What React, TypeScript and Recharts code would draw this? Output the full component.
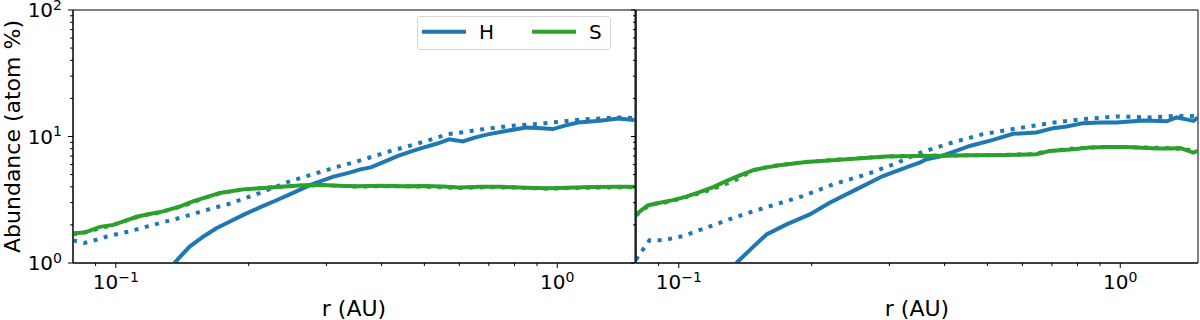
import React from 'react';
import { LineChart, Line, XAxis, YAxis, ReferenceArea, Legend } from 'recharts';

const H_COLOR = '#1f77b4';
const S_COLOR = '#2ca02c';
const FONT = '"DejaVu Sans", sans-serif';

// axis ticks
const xDomain = [0.08, 1.5];
const yDomain = [1, 100];
const xTicks = [0.09, 0.1, 0.2, 0.3, 0.4, 0.5, 0.6, 0.7, 0.8, 0.9, 1];
const xMajorTicks = [0.1, 1];
const xMajorExp = ['\u22121', '0'];
const yTicks = [1, 2, 3, 4, 5, 6, 7, 8, 9, 10, 20, 30, 40, 50, 60, 70, 80, 90, 100];
const yMajorTicks = [1, 10, 100];
const yMajorExp = ['0', '1', '2'];
const seriesNames = ['H', 'S'];

// left panel
const leftHSolidR = [0.1357, 0.147, 0.158, 0.169, 0.18, 0.1945, 0.212, 0.232, 0.255, 0.276, 0.31, 0.34, 0.358, 0.378, 0.405, 0.4345, 0.465, 0.499, 0.535, 0.569, 0.611, 0.65, 0.696, 0.77, 0.85, 0.92, 0.978, 1.04, 1.114, 1.25, 1.374, 1.45, 1.5];
const leftHSolidA = [1.0, 1.35, 1.62, 1.88, 2.1, 2.4, 2.75, 3.15, 3.65, 4.15, 4.8, 5.2, 5.5, 5.7, 6.3, 7.0, 7.6, 8.2, 8.8, 9.5, 9.15, 9.8, 10.4, 11.1, 11.8, 11.6, 11.45, 12.2, 12.9, 13.3, 13.9, 13.6, 13.5];
const leftHDotR = [0.08, 0.085, 0.09, 0.096, 0.1076, 0.118, 0.128, 0.14, 0.1525, 0.165, 0.1787, 0.195, 0.2125, 0.23, 0.2486, 0.27, 0.2956, 0.32, 0.352, 0.385, 0.4195, 0.455, 0.491, 0.525, 0.5645, 0.61, 0.661, 0.72, 0.786, 0.86, 0.936, 1.02, 1.114, 1.25, 1.374, 1.5];
const leftHDotA = [1.51, 1.44, 1.52, 1.63, 1.78, 1.95, 2.1, 2.28, 2.49, 2.7, 2.9, 3.22, 3.59, 4.0, 4.44, 4.85, 5.33, 5.8, 6.35, 7.0, 7.69, 8.3, 8.96, 9.6, 10.43, 10.8, 11.28, 11.7, 12.13, 12.4, 12.75, 13.1, 13.55, 13.9, 14.15, 14.0];
const leftSSolidR = [0.08, 0.085, 0.092, 0.0986, 0.105, 0.1115, 0.12, 0.128, 0.14, 0.15, 0.16, 0.172, 0.1945, 0.232, 0.26, 0.286, 0.32, 0.352, 0.4, 0.45, 0.5, 0.55, 0.6, 0.67, 0.75, 0.85, 0.95, 1.05, 1.2, 1.35, 1.5];
const leftSSolidA = [1.72, 1.74, 1.93, 2.0, 2.15, 2.32, 2.45, 2.56, 2.8, 3.08, 3.3, 3.58, 3.82, 3.98, 4.1, 4.15, 4.08, 4.05, 4.08, 4.05, 4.07, 4.02, 3.95, 4.0, 4.0, 3.93, 3.9, 3.93, 3.98, 4.0, 4.0];
const leftSDotR = [0.08, 0.086, 0.093, 0.1, 0.107, 0.115, 0.124, 0.133, 0.145, 0.158, 0.172, 0.19, 0.22, 0.26, 0.3, 0.35, 0.42, 0.5, 0.6, 0.7, 0.8, 0.95, 1.1, 1.3, 1.5];
const leftSDotA = [1.68, 1.76, 1.9, 2.03, 2.2, 2.38, 2.48, 2.65, 2.9, 3.25, 3.55, 3.78, 3.95, 4.08, 4.12, 4.02, 4.05, 4.02, 3.92, 3.97, 3.95, 3.87, 3.92, 3.95, 3.98];

// right panel
const rightHSolidR = [0.135, 0.146, 0.158, 0.175, 0.198, 0.2197, 0.2525, 0.29, 0.3335, 0.3514, 0.364, 0.39, 0.42, 0.456, 0.515, 0.572, 0.646, 0.705, 0.756, 0.824, 0.9, 0.981, 1.128, 1.274, 1.342, 1.42, 1.464, 1.5];
const rightHSolidA = [1.0, 1.3, 1.68, 2.01, 2.42, 2.99, 3.82, 4.87, 5.84, 6.22, 6.61, 6.94, 7.6, 8.42, 9.4, 10.5, 10.76, 11.64, 12.0, 12.75, 12.9, 12.9, 13.4, 13.2, 14.15, 13.6, 13.3, 14.1];
const rightHDotR = [0.08, 0.083, 0.0858, 0.092, 0.102, 0.1154, 0.135, 0.1606, 0.191, 0.2234, 0.266, 0.311, 0.345, 0.411, 0.489, 0.582, 0.693, 0.824, 0.981, 1.17, 1.342, 1.5];
const rightHDotA = [1.06, 1.28, 1.51, 1.51, 1.63, 1.9, 2.32, 2.81, 3.38, 4.18, 5.02, 6.14, 7.24, 8.85, 10.43, 11.57, 12.75, 13.72, 14.4, 14.15, 14.56, 14.5];
const rightSSolidR = [0.08, 0.085, 0.09, 0.097, 0.104, 0.1114, 0.12, 0.128, 0.137, 0.147, 0.158, 0.169, 0.1945, 0.24, 0.295, 0.35, 0.4, 0.456, 0.55, 0.646, 0.693, 0.77, 0.854, 0.94, 1.034, 1.12, 1.209, 1.3, 1.366, 1.464, 1.5];
const rightSSolidA = [2.42, 2.85, 2.98, 3.14, 3.35, 3.63, 4.0, 4.44, 4.9, 5.4, 5.7, 5.92, 6.29, 6.61, 6.94, 7.02, 7.05, 7.1, 7.15, 7.24, 7.69, 7.9, 8.18, 8.25, 8.27, 8.15, 8.03, 8.05, 8.12, 7.46, 7.7];
const rightSDotR = [0.08, 0.086, 0.093, 0.1, 0.108, 0.116, 0.125, 0.135, 0.148, 0.165, 0.19, 0.23, 0.3, 0.4, 0.5, 0.62, 0.7, 0.8, 0.95, 1.1, 1.3, 1.5];
const rightSDotA = [2.38, 2.9, 3.0, 3.2, 3.45, 3.72, 4.08, 4.55, 5.45, 5.88, 6.25, 6.58, 6.98, 7.08, 7.12, 7.22, 7.72, 8.1, 8.28, 8.2, 8.1, 7.72];

const toPoints = (r: number[], a: number[]) => r.map((v, i) => ({ r: v, a: a[i] }));

const XTick = ({ x, y, payload }: any) => {
  const i = xMajorTicks.indexOf(payload.value);
  const major = i >= 0;
  return (
    <g>
      <line x1={x} x2={x} y1={y} y2={y + (major ? 5 : 3)} stroke="#000" strokeWidth={1} />
      {major && (
        <text x={x} y={y + 26} textAnchor="middle" fontSize={20} fontFamily={FONT} fill="#000">
          10<tspan dy={-7.5} fontSize={14}>{xMajorExp[i]}</tspan>
        </text>
      )}
    </g>
  );
};

const YTick = ({ x, y, payload, showLabel }: any) => {
  const i = yMajorTicks.indexOf(payload.value);
  const major = i >= 0;
  return (
    <g>
      <line x1={x - (major ? 5 : 3)} x2={x} y1={y} y2={y} stroke="#000" strokeWidth={1} />
      {major && showLabel && (
        <text x={x - 11} y={y + 7} textAnchor="end" fontSize={20} fontFamily={FONT} fill="#000">
          10<tspan dy={-7.5} fontSize={14}>{yMajorExp[i]}</tspan>
        </text>
      )}
    </g>
  );
};

const XTitle = ({ cx }: { cx: number }) => (
  <text x={cx} y={316} textAnchor="middle" fontSize={22} fontFamily={FONT} fill="#000">
    r (AU)
  </text>
);

const YTitle = () => (
  <text
    x={12}
    y={136.5}
    transform="rotate(-90 12 136.5)"
    textAnchor="middle"
    dominantBaseline="central"
    fontSize={22}
    fontFamily={FONT}
    fill="#000"
  >
    Abundance (atom %)
  </text>
);

const LegendBox = () => {
  const colors = [H_COLOR, S_COLOR];
  return (
    <div
      style={{
        width: 194,
        height: 34,
        boxSizing: 'border-box',
        border: '1px solid #d6d6d6',
        borderRadius: 3,
        background: 'rgba(255,255,255,0.8)',
      }}
    >
      <svg width={192} height={32} style={{ display: 'block' }}>
        {seriesNames.map((name, i) => (
          <g key={name} transform={`translate(${i * 110},0)`}>
            <line x1={4} x2={48} y1={14.7} y2={14.7} stroke={colors[i]} strokeWidth={4} />
            <text x={61} y={22} fontSize={20} fontFamily={FONT} fill="#000">
              {name}
            </text>
          </g>
        ))}
      </svg>
    </div>
  );
};

type Series = { data: { r: number; a: number }[]; color: string; dotted: boolean; key: string };

const Panel = ({
  width,
  left,
  yAxisWidth,
  series,
  showYLabels,
  showLegend,
  titleX,
}: {
  width: number;
  left: number;
  yAxisWidth: number;
  series: Series[];
  showYLabels: boolean;
  showLegend: boolean;
  titleX: number;
}) => (
  <div style={{ position: 'absolute', left, top: 0 }}>
    <LineChart width={width} height={320} margin={{ top: 10, right: left === 0 ? 1 : 2, bottom: 0, left: 0 }}>
      <XAxis
        type="number"
        dataKey="r"
        scale="log"
        domain={xDomain}
        allowDataOverflow
        ticks={xTicks}
        interval={0}
        tick={<XTick />}
        tickLine={false}
        tickSize={0}
        tickMargin={0}
        height={57}
        axisLine={{ stroke: '#000' }}
        label={<XTitle cx={titleX} />}
      />
      <YAxis
        type="number"
        scale="log"
        domain={yDomain}
        allowDataOverflow
        ticks={yTicks}
        interval={0}
        tick={<YTick showLabel={showYLabels} />}
        tickLine={false}
        tickSize={0}
        tickMargin={0}
        width={yAxisWidth}
        axisLine={{ stroke: '#000' }}
        label={showYLabels ? <YTitle /> : undefined}
      />
      {series.map((s) => (
        <Line
          key={s.key}
          data={s.data}
          dataKey="a"
          type="linear"
          stroke={s.color}
          strokeWidth={4}
          strokeDasharray={s.dotted ? '4 6.6' : undefined}
          strokeLinecap="butt"
          dot={false}
          activeDot={false}
          isAnimationActive={false}
        />
      ))}
      <ReferenceArea
        x1={xDomain[0]}
        x2={xDomain[1]}
        y1={yDomain[0]}
        y2={yDomain[1]}
        fill="none"
        fillOpacity={0}
        stroke="#000"
        strokeWidth={1}
        ifOverflow="visible"
      />
      {showLegend && (
        <Legend
          verticalAlign="middle"
          align="center"
          content={() => <LegendBox />}
          wrapperStyle={{ left: 417, top: 16, width: 194, height: 34 }}
        />
      )}
    </LineChart>
  </div>
);

export default function App() {
  const leftSeries: Series[] = [
    { key: 'hdot', data: toPoints(leftHDotR, leftHDotA), color: H_COLOR, dotted: true },
    { key: 'sdot', data: toPoints(leftSDotR, leftSDotA), color: S_COLOR, dotted: true },
    { key: 'h', data: toPoints(leftHSolidR, leftHSolidA), color: H_COLOR, dotted: false },
    { key: 's', data: toPoints(leftSSolidR, leftSSolidA), color: S_COLOR, dotted: false },
  ];
  const rightSeries: Series[] = [
    { key: 'hdot', data: toPoints(rightHDotR, rightHDotA), color: H_COLOR, dotted: true },
    { key: 'sdot', data: toPoints(rightSDotR, rightSDotA), color: S_COLOR, dotted: true },
    { key: 'h', data: toPoints(rightHSolidR, rightHSolidA), color: H_COLOR, dotted: false },
    { key: 's', data: toPoints(rightSSolidR, rightSSolidA), color: S_COLOR, dotted: false },
  ];

  return (
    <div style={{ position: 'absolute', left: 0, top: 0, width: 1200, height: 320, background: '#fff', fontFamily: FONT }}>
      <Panel width={636} left={0} yAxisWidth={73} series={leftSeries} showYLabels showLegend titleX={354} />
      <Panel width={574} left={626} yAxisWidth={10} series={rightSeries} showYLabels={false} showLegend={false} titleX={291} />
    </div>
  );
}
